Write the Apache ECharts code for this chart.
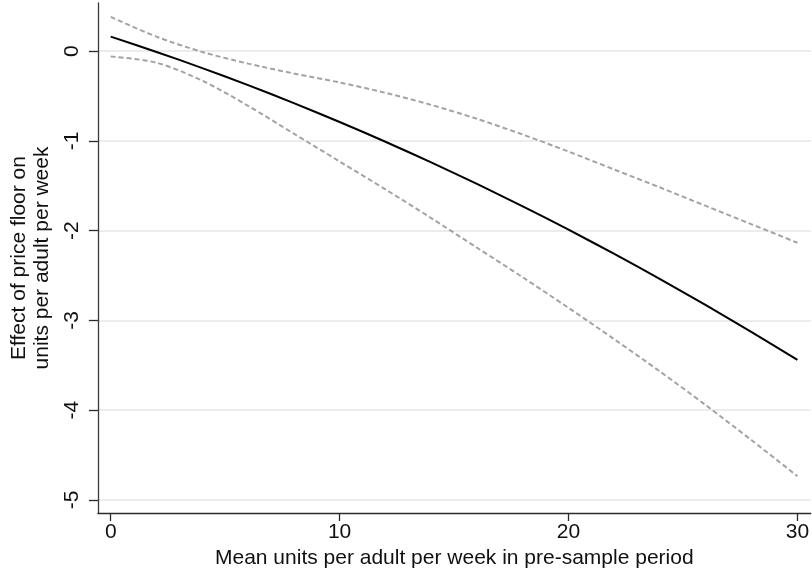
<!DOCTYPE html>
<html>
<head>
<meta charset="utf-8">
<script src="https://cdn.jsdelivr.net/npm/echarts@6/dist/echarts.min.js"></script>
<style>
  html, body { margin: 0; padding: 0; background: #ffffff; }
  #chart { width: 812px; height: 574px; }
</style>
</head>
<body>
<div id="chart"></div>
<script>
// Mean consumption in the pre-sample period (units per adult per week)
const xValues = [0, 2, 4, 6, 8, 10, 12, 14, 16, 18, 20, 22, 24, 26, 28, 30];
// Estimated effect of the price floor and its 95% confidence bounds
const fitted  = [0.16, -0.01, -0.19, -0.38, -0.58, -0.79, -1.01, -1.24, -1.48, -1.73, -1.99, -2.26, -2.54, -2.83, -3.13, -3.44];
const upperCI = [0.38, 0.16, -0.01, -0.14, -0.25, -0.35, -0.465, -0.60, -0.755, -0.93, -1.12, -1.32, -1.52, -1.725, -1.93, -2.135];
const lowerCI = [-0.06, -0.13, -0.33, -0.61, -0.92, -1.23, -1.54, -1.86, -2.19, -2.52, -2.86, -3.21, -3.57, -3.945, -4.335, -4.735];
// Axis tick positions
const xTicks = [0, 10, 20, 30];
const yTicks = [0, -1, -2, -3, -4, -5];

const FONT = '"Liberation Sans", Arial, "DejaVu Sans", sans-serif';
const pairs = ys => xValues.map((x, i) => [x, ys[i]]);

const chart = echarts.init(document.getElementById('chart'), null, { renderer: 'canvas' });

const ciLine = {
  type: 'line',
  symbol: 'none',
  smooth: 0.3,
  lineStyle: { color: '#a3a3a3', width: 2, type: [5, 3] },
  z: 2
};

chart.setOption({
  animation: false,
  backgroundColor: '#ffffff',
  grid: { left: 92, right: 1, top: 3, bottom: 61, containLabel: false },
  xAxis: {
    type: 'value',
    min: -0.56,
    max: 30.58,
    name: 'Mean units per adult per week in pre-sample period',
    nameLocation: 'middle',
    nameGap: 34,
    nameTextStyle: { fontFamily: FONT, fontSize: 21, color: '#111' },
    axisLine: { onZero: false, lineStyle: { color: '#2a2a2a', width: 1.3 } },
    axisTick: { show: true, length: 8, customValues: xTicks, lineStyle: { color: '#2a2a2a', width: 1.3 } },
    axisLabel: { customValues: xTicks, margin: 9, fontFamily: FONT, fontSize: 21, color: '#111' },
    splitLine: { show: false }
  },
  yAxis: {
    type: 'value',
    min: -5.145,
    max: 0.535,
    name: 'Effect of price floor on\nunits per adult per week',
    nameLocation: 'middle',
    nameRotate: 90,
    nameGap: 40,
    nameTextStyle: { fontFamily: FONT, fontSize: 21, color: '#111', lineHeight: 23 },
    axisLine: { onZero: false, lineStyle: { color: '#3a3a3a', width: 1.3 } },
    axisTick: { show: true, length: 9, customValues: yTicks, lineStyle: { color: '#2a2a2a', width: 1.3 } },
    axisLabel: { customValues: yTicks, rotate: 90, margin: 15, fontFamily: FONT, fontSize: 21, color: '#111' },
    splitLine: { show: true, lineStyle: { color: '#e6e6e6', width: 1.5 } }
  },
  series: [
    Object.assign({ name: 'Upper bound', data: pairs(upperCI) }, ciLine),
    Object.assign({ name: 'Lower bound', data: pairs(lowerCI) }, ciLine),
    {
      name: 'Effect',
      type: 'line',
      symbol: 'none',
      smooth: 0.3,
      data: pairs(fitted),
      lineStyle: { color: '#000000', width: 2 },
      z: 3
    }
  ]
});
</script>
</body>
</html>
